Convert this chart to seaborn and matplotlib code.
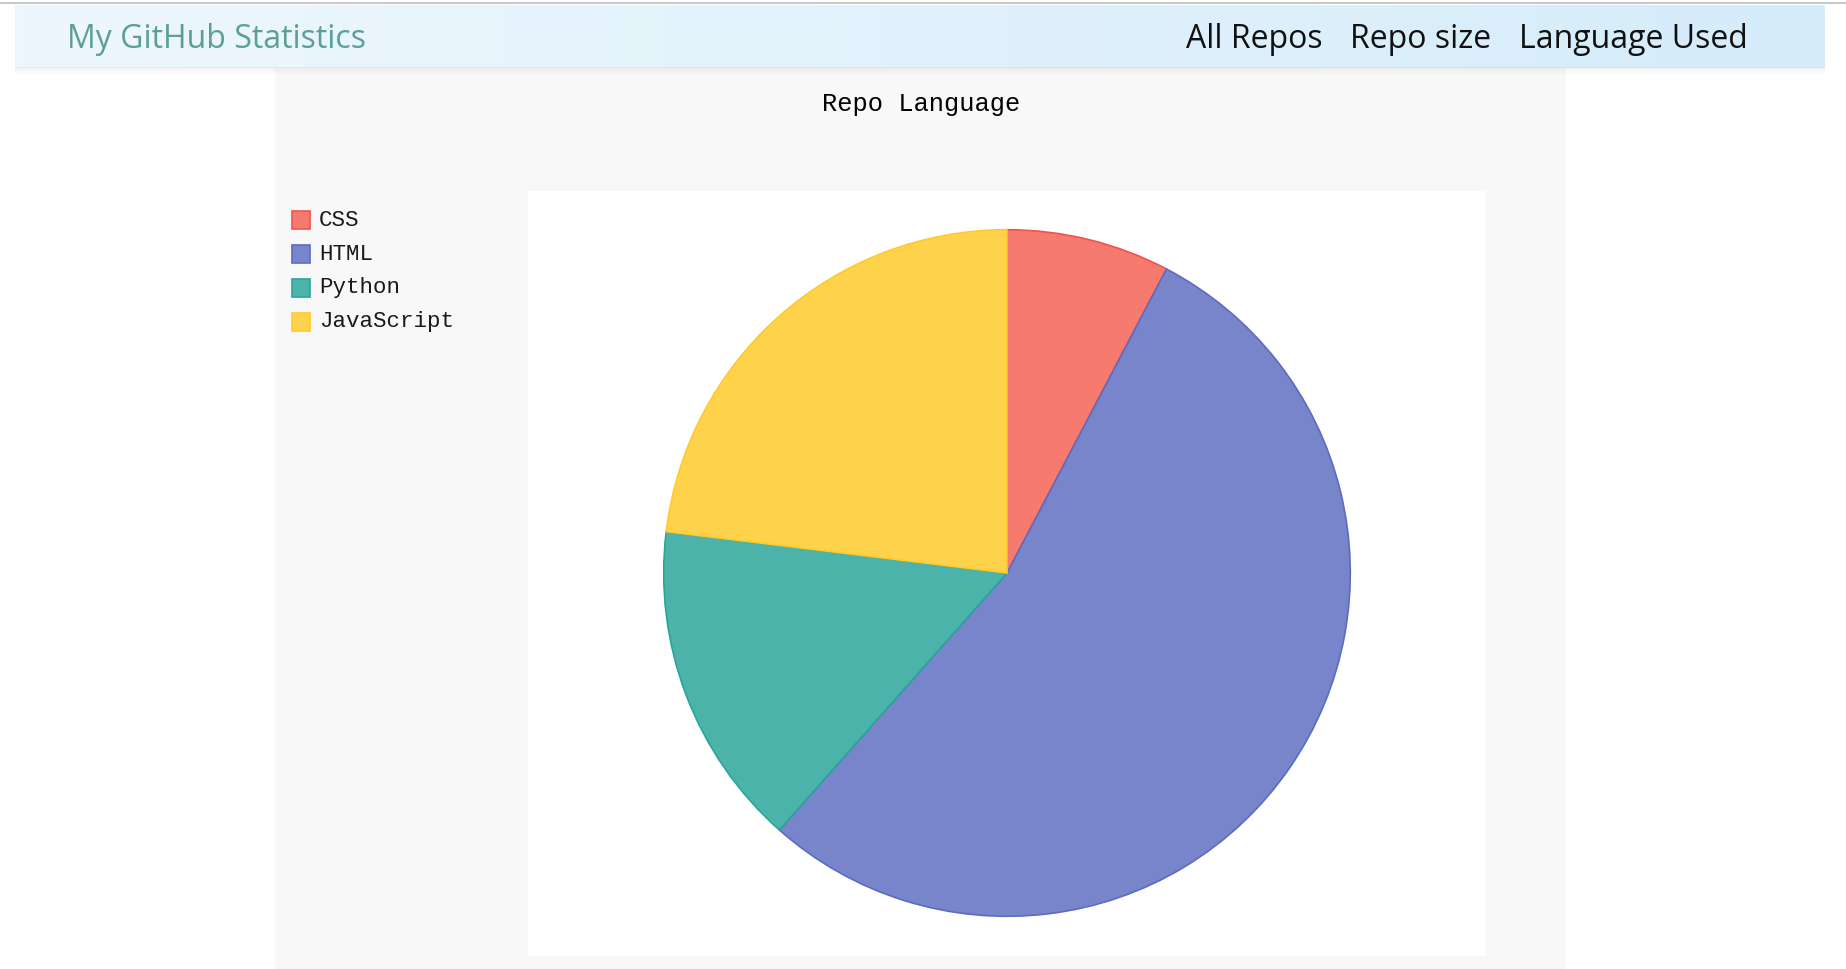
import matplotlib
matplotlib.use("Agg")
import matplotlib.pyplot as plt
import numpy as np
import seaborn as sns
from matplotlib.patches import Rectangle

# data (repo counts per language)
languages = ["CSS", "HTML", "Python", "JavaScript"]
repo_counts = [1, 7, 2, 3]
fill_colors = ["#f67a6e", "#7985ca", "#4cb3ab", "#ffd24c"]
edge_colors = ["#ef5350", "#5c6bc0", "#26a69a", "#ffca28"]

nav_title = "My GitHub Statistics"
nav_links = ["All Repos", "Repo size", "Language Used"]
nav_link_x = [1186, 1350, 1519]
chart_title = "Repo Language"

W, H = 1846, 969

sns.set_theme(style="white")
plt.rcParams["font.family"] = ["Open Sans", "DejaVu Sans"]
NAV_FONT = ["Open Sans", "DejaVu Sans"]
MONO_FONT = ["Liberation Mono", "DejaVu Sans Mono"]


def fx(px):
    return px / W


def fy(py):
    return 1 - py / H


fig = plt.figure(figsize=(W / 100, H / 100), dpi=100)
fig.patch.set_facecolor("white")

# top browser line
fig.add_artist(Rectangle((0, fy(4)), 1, 1.5 / H, transform=fig.transFigure,
                         facecolor="#c8c8c8", edgecolor="none"))

# gray panel behind chart
fig.add_artist(Rectangle((fx(275), 0), fx(1566) - fx(275), fy(68), transform=fig.transFigure,
                         facecolor="#f8f8f8", edgecolor="none", zorder=0))

# navbar shadow + gradient
for i, a in enumerate([0.05, 0.035, 0.02, 0.01]):
    fig.add_artist(Rectangle((fx(15), fy(69 + i * 2)), fx(1825) - fx(15), 2 / H,
                             transform=fig.transFigure, facecolor="black", alpha=a,
                             edgecolor="none"))
nav_ax = fig.add_axes([fx(15), fy(68), fx(1825) - fx(15), (68 - 5) / H])
grad = np.linspace(0, 1, 256).reshape(1, -1)
cmap = matplotlib.colors.LinearSegmentedColormap.from_list("nav", ["#eef7fd", "#d5ecfa"])
nav_ax.imshow(grad, aspect="auto", cmap=cmap, extent=[0, 1, 0, 1])
nav_ax.set_axis_off()

fig.text(fx(67), fy(39), nav_title, fontsize=23, color="#5c9f96",
         va="center", ha="left", family=NAV_FONT, zorder=5)
for label, x in zip(nav_links, nav_link_x):
    fig.text(fx(x), fy(39), label, fontsize=23, color="#111111",
             va="center", ha="left", family=NAV_FONT, zorder=5)

# chart title
fig.text(fx(921), fy(104), chart_title, fontsize=18.4, color="black",
         va="center", ha="center", family=MONO_FONT)

# white plot area
fig.add_artist(Rectangle((fx(528), fy(956)), fx(1485) - fx(528), (956 - 191) / H,
                         transform=fig.transFigure, facecolor="white", edgecolor="none",
                         zorder=0.5))

# pie
cx, cy, r = 1007, 573, 345
ax = fig.add_axes([fx(cx - r), fy(cy + r), 2 * r / W, 2 * r / H])
ax.set_zorder(2)
ax.set_facecolor("none")
wedges, _ = ax.pie(repo_counts, colors=fill_colors, startangle=90, counterclock=False,
                   radius=1, wedgeprops=dict(linewidth=1.2))
for w, ec in zip(wedges, edge_colors):
    w.set_edgecolor(ec)
ax.set_xlim(-1.005, 1.005)
ax.set_ylim(-1.005, 1.005)
ax.set_aspect("auto")
ax.set_axis_off()

# legend
leg_y = [220, 254, 288, 322]
for lang, fc, ec, y in zip(languages, fill_colors, edge_colors, leg_y):
    fig.add_artist(Rectangle((fx(292), fy(y + 9)), 18 / W, 18 / H, transform=fig.transFigure,
                             facecolor=fc, edgecolor=ec, linewidth=1.2, zorder=3))
    fig.text(fx(319), fy(y), lang, fontsize=16.2, color="#1a1a1a", va="center", ha="left",
             family=MONO_FONT)

fig.savefig("out.png", dpi=100)
